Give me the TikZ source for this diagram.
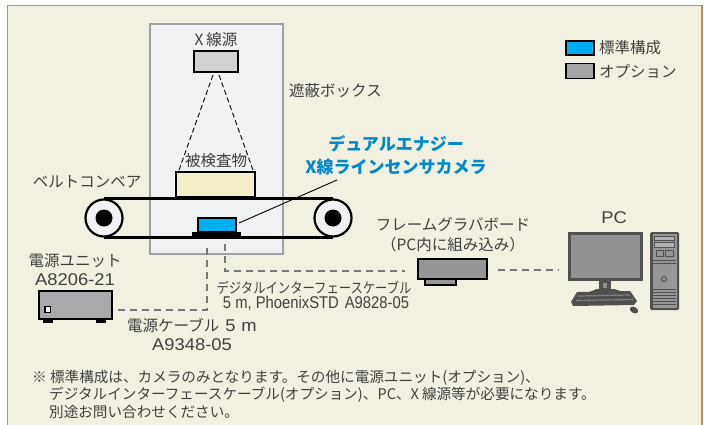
\documentclass[tikz,border=0pt]{standalone}
\usepackage{fontspec}
\setmainfont{Noto Sans CJK JP}
\newfontfamily\latinfont[FakeStretch=1.08]{Liberation Sans}
\newfontfamily\condfont[FakeStretch=0.85]{Noto Sans CJK JP}
\newfontfamily\condlatin[FakeStretch=0.87]{Liberation Sans}
\newcommand\lat[1]{{\latinfont\fontsize{17}{19}\selectfont #1}}
\definecolor{bgcream}{RGB}{242,240,224}
\definecolor{framebrown}{RGB}{184,146,96}
\definecolor{shieldfill}{RGB}{240,241,243}
\definecolor{shieldgray}{RGB}{158,160,163}
\definecolor{xraygray}{RGB}{209,210,212}
\definecolor{objcream}{RGB}{244,238,198}
\definecolor{camblue}{RGB}{0,174,239}
\definecolor{optgray}{RGB}{165,166,168}
\definecolor{unitgray}{RGB}{168,169,171}
\definecolor{grabgray}{RGB}{150,150,150}
\definecolor{cablegray}{RGB}{118,120,122}
\definecolor{txtgray}{RGB}{64,64,64}
\definecolor{labelblue}{RGB}{0,138,204}
\definecolor{pcdark}{RGB}{80,80,80}
\definecolor{pcscreen}{RGB}{145,145,145}
\definecolor{towergray}{RGB}{150,150,150}
\begin{document}
\begin{tikzpicture}[x=1pt,y=-1pt,lbl/.style={text=txtgray,font=\fontsize{15.5}{19.5}\selectfont,align=center,inner sep=0},part/.style={draw,line width=1.5,inner sep=0,outer sep=0},cable/.style={draw=cablegray,line width=2.3,dash pattern=on 7pt off 5pt},beam/.style={line width=0.9,dash pattern=on 5pt off 3pt}]
  \useasboundingbox (0,0) rectangle (704,425);
  \clip (0,0) rectangle (704,425);
  \fill[white] (0,0) rectangle (704,425);
  \filldraw[fill=bgcream,draw=framebrown,line width=1.6] (7.5,5.5) rectangle (702,440);
  % shield box with source and object
  \node[draw=shieldgray,fill=shieldfill,line width=1.8,minimum width=133,minimum height=230,inner sep=0] (shield) at (216.5,139) {};
  \node[lbl,anchor=west] (shieldlbl) at (289,91) {遮蔽ボックス};
  \node[lbl] (xraylbl) at (216,40) {X\hspace{3pt}線源};
  \node[part,fill=xraygray,minimum width=44,minimum height=21] (xray) at (216,61.5) {};
  \node[part,fill=objcream,minimum width=79,minimum height=25] (obj) at (215.5,184.5) {};
  \node[lbl] (objlbl) at (216,161) {被検査物};
  \draw[beam] ([shift={(-3,3)}]xray.south) -- ([shift={(3,-2)}]obj.north west);
  \draw[beam] ([shift={(3,3)}]xray.south) -- ([shift={(-2,-2)}]obj.north east);
  % conveyor
  \node[circle,draw,line width=2.2,fill=shieldfill,minimum size=37,inner sep=0] (rollL) at (104,218) {};
  \node[circle,draw,line width=2.2,fill=shieldfill,minimum size=37,inner sep=0] (rollR) at (333,218) {};
  \fill (rollL) circle (8.5);
  \fill (rollR) circle (8.5);
  \draw[line width=2.5] (rollL.north) -- (rollR.north);
  \draw[line width=2.5] (rollL.south) -- (rollR.south);
  \node[lbl] (beltlbl) at (87,182) {ベルトコンベア};
  % camera
  \node[fill=black,minimum width=49,minimum height=5,inner sep=0] (cambase) at (216.5,234.5) {};
  \node[part,fill=camblue,minimum width=38,minimum height=14] (cam) at (217,225) {};
  \node[text=labelblue,font=\fontsize{17}{23}\selectfont\bfseries,align=center,inner sep=0] (camlbl) at (396,155) {デュアルエナジー\\X線ラインセンサカメラ};
  \coordinate (camtip) at (337,180);
  \draw[line width=0.9] ([shift={(3,-2)}]cam.east) -- (camtip);
  % legend
  \node[part,fill=camblue,minimum width=28,minimum height=14] (keystd) at (580,48) {};
  \node[part,fill=optgray,minimum width=28,minimum height=15] (keyopt) at (580,71) {};
  \node[lbl,anchor=west] at ([xshift=5]keystd.east) {標準構成};
  \node[lbl,anchor=west] at ([xshift=5]keyopt.east) {オプション};
  % power unit
  \node[lbl] (pwrlbl) at (75,269.5) {電源ユニット\\\lat{A8206-21}};
  \node[part,line width=1.8,fill=unitgray,minimum width=73,minimum height=28] (pwr) at (75.5,305) {};
  \draw[line width=1.2,fill=shieldfill] (45,306.5) rectangle (50.5,312.5);
  \fill (43,319) rectangle (53,323);
  \fill (96,319) rectangle (106,323);
  \coordinate (pwrtop) at (207,244);
  \draw[cable] ([shift={(6,5)}]pwr.east) -| (pwrtop);
  \node[lbl] (pcablbl) at (192,334.5) {電源ケーブル\hspace{6pt}\lat{5\hspace{6pt}m}\\\lat{A9348-05}};
  % frame grabber and pc
  \node[part,fill=grabgray,minimum width=69,minimum height=20] (grabber) at (452.5,269) {};
  \draw[line width=1.5,fill=grabgray] (425,279) rectangle (456,285);
  \node[lbl] (grablbl) at (453,234.5) {フレームグラバボード\\（PC内に組み込み）};
  \coordinate (iftop) at (225,244);
  \draw[cable,shorten >=13] (iftop) |- ([yshift=-2]grabber.west);
  \node[lbl,font=\condfont\fontsize{14.5}{16}\selectfont] (iflbl) at (314,288) {デジタルインターフェースケーブル};
  \node[lbl,font=\condlatin\fontsize{17}{18}\selectfont] (ifnum) at (316,303.5) {5 m, PhoenixSTD\hspace{6pt}A9828-05};
  \node[fill=pcdark,minimum width=75,minimum height=49,inner sep=0,outer sep=0] (mon) at (605.5,256.5) {};
  \fill[pcscreen] ([shift={(3,3)}]mon.north west) rectangle ([shift={(-3,-3)}]mon.south east);
  \draw[cable,shorten <=11,shorten >=9] ([yshift=-1]grabber.east) -- ([yshift=-1]grabber.east -| mon.west);
  \fill[pcdark] (599,281) rectangle (611,291);
  \fill[pcscreen] (603,283) rectangle (607,288);
  \fill[pcdark] (584,294) -- (597,289) -- (614,289) -- (627,293) -- cycle;
  \fill[pcdark] (577,292) -- (630,291) -- (637,301) -- (634,305) -- (573,306) -- (571,302) -- cycle;
  \draw[pcscreen,line width=1.2,dash pattern=on 1pt off 0.6pt] (578,296) -- (630,295);
  \draw[pcscreen,line width=1.2,dash pattern=on 1pt off 0.6pt] (576,300.5) -- (633,299.5);
  \fill[pcdark,rotate around={-30:(634,310)}] (634,310) ellipse (4.5 and 3);
  \node[fill=pcdark,minimum width=29,minimum height=78,inner sep=0,rounded corners=1.5] (tower) at (664.5,271) {};
  \fill[towergray] (652.5,234) rectangle (676.5,308);
  \draw[pcdark,line width=1,fill=pcscreen!70] (654.5,236) rectangle (674.5,240.5);
  \draw[pcdark,line width=1,fill=pcscreen!70] (654.5,242.5) rectangle (674.5,247);
  \draw[pcdark,line width=1] (656,250) rectangle (663,256) (665,250) rectangle (673,256);
  \draw[pcdark,line width=1] (653,260) -- (676,260) (653,263) -- (676,263);
  \draw[pcdark,line width=0.9] (664,279) circle (2.5);
  \foreach \gy in {289,292,...,306}
    \draw[pcdark,line width=1] (653,\gy) -- (676,\gy);
  \node[lbl] (pclbl) at (614,218) {\lat{PC}};
  % footnote
  \node[lbl,anchor=west,align=left,font=\fontsize{14.6}{17.5}\selectfont] (note) at (32,394) {※ 標準構成は、カメラのみとなります。その他に電源ユニット(オプション)、\\\hspace*{17pt}デジタルインターフェースケーブル(オプション)、PC、X\hspace{3pt}線源等が必要になります。\\\hspace*{17pt}別途お問い合わせください。};
\end{tikzpicture}
\end{document}
